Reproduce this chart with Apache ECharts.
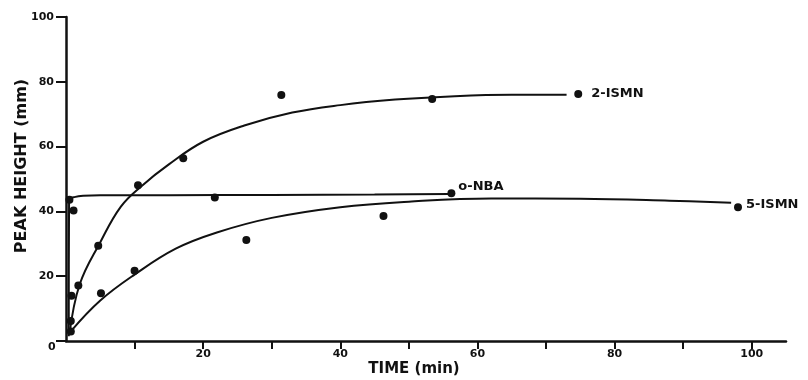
<!DOCTYPE html>
<html>
<head>
<meta charset="utf-8">
<script src="https://cdn.jsdelivr.net/npm/echarts@6/dist/echarts.min.js"></script>
<style>
html,body{margin:0;padding:0;background:#fff;}
#chart{width:808px;height:380px;}
</style>
</head>
<body>
<div id="chart"></div>
<script>
// ---- data ----
var xTicks = [10, 20, 30, 40, 50, 60, 70, 80, 90, 100];
var xTickLabels = [20, 40, 60, 80, 100];
var yTicks = [0, 20, 40, 60, 80, 100];
var yTickLabels = [20, 40, 60, 80, 100];

var seriesNames = ['2-ISMN', 'o-NBA', '5-ISMN'];

// measured points [time (min), peak height (mm)]
var ismn2Points = [[0.7, 6.2], [1.8, 17.1], [4.7, 29.4], [10.5, 48.1], [17.1, 56.4], [31.4, 75.9], [53.4, 74.7], [74.7, 76.2]];
var nbaPoints = [[0.5, 43.6], [0.8, 14.0], [1.1, 40.3], [21.7, 44.3], [56.2, 45.6]];
var ismn5Points = [[0.7, 2.9], [5.1, 14.7], [10.0, 21.7], [26.3, 31.2], [46.3, 38.6], [98.0, 41.3]];

// fitted curves
var ismn2Curve = [[0.5, 2], [2, 17.5], [5, 30.5], [8, 41.5], [11, 47.8], [15, 54.5], [20, 61.5], [26, 66.5], [33, 70.5], [40, 72.8], [48, 74.5], [56, 75.5], [65, 76], [73, 76]];
var nbaCurve = [[0.4, 1.5], [0.45, 43.8], [1.2, 44.4], [2.5, 44.8], [5, 45], [15, 45], [30, 45.1], [45, 45.2], [56, 45.4]];
var ismn5Curve = [[0.7, 3], [5, 12.5], [10, 20.5], [16, 28.5], [22, 33.5], [30, 38], [40, 41.3], [50, 43], [62, 44], [75, 43.9], [88, 43.3], [97, 42.7]];

var xTitle = 'TIME (min)';
var yTitle = 'PEAK HEIGHT (mm)';

// ---- chart ----
var FONT = 'DejaVu Sans';
var INK = '#111';

function labeledPoints(points, name, opts) {
  return points.map(function (p, i) {
    if (i === points.length - 1) {
      return {
        value: p,
        label: Object.assign({
          show: true, formatter: name, position: 'right',
          fontFamily: FONT, fontWeight: 'bold', fontSize: 13, color: INK
        }, opts)
      };
    }
    return { value: p };
  });
}

function curve(name, data, smooth) {
  return {
    name: name, type: 'line', data: data, smooth: smooth,
    showSymbol: false, symbol: 'none', silent: true,
    lineStyle: { color: INK, width: 2 }, z: 2
  };
}
function scatter(name, data) {
  return {
    name: name, type: 'scatter', data: data, symbol: 'circle', symbolSize: 8,
    itemStyle: { color: INK, opacity: 1 }, z: 3
  };
}

var chart = echarts.init(document.getElementById('chart'), null, { renderer: 'canvas' });
chart.setOption({
  animation: false,
  backgroundColor: '#fff',
  grid: { left: 66, right: 22, top: 17, bottom: 39, containLabel: false, outerBoundsMode: 'none' },
  xAxis: {
    type: 'value', min: 0, max: 105, interval: 10,
    name: xTitle, nameLocation: 'middle', nameGap: 21, nameMoveOverlap: false,
    nameTextStyle: { fontFamily: FONT, fontWeight: 'bold', fontSize: 15, color: INK, padding: [0, 24, 0, 0] },
    axisLine: { show: true, lineStyle: { color: INK, width: 2.5 } },
    axisTick: { show: true, length: 8, lineStyle: { color: INK, width: 2 }, customValues: xTicks },
    axisLabel: { show: true, margin: 8, fontFamily: FONT, fontWeight: 'bold', fontSize: 11, color: INK, customValues: xTickLabels },
    splitLine: { show: false }
  },
  yAxis: {
    type: 'value', min: 0, max: 100, interval: 20,
    name: yTitle, nameLocation: 'middle', nameGap: 36, nameMoveOverlap: false,
    nameTextStyle: { fontFamily: FONT, fontWeight: 'bold', fontSize: 16, color: INK, padding: [0, 0, 0, 26] },
    axisLine: { show: true, lineStyle: { color: INK, width: 2.5 } },
    axisTick: { show: true, length: 10, lineStyle: { color: INK, width: 2 }, customValues: yTicks },
    axisLabel: { show: true, margin: 12, fontFamily: FONT, fontWeight: 'bold', fontSize: 11, color: INK, customValues: yTickLabels },
    splitLine: { show: false }
  },
  graphic: [{
    type: 'text', left: 48, top: 342,
    style: { text: '0', font: 'bold 11px "DejaVu Sans"', fill: INK }
  }],
  series: [
    curve(seriesNames[0], ismn2Curve, 0.4),
    curve(seriesNames[1], nbaCurve, 0.2),
    curve(seriesNames[2], ismn5Curve, 0.4),
    scatter(seriesNames[0], labeledPoints(ismn2Points, seriesNames[0], { distance: 9 })),
    scatter(seriesNames[1], labeledPoints(nbaPoints, seriesNames[1], { distance: 3, offset: [0, -7] })),
    scatter(seriesNames[2], labeledPoints(ismn5Points, seriesNames[2], { distance: 4, offset: [0, -3] }))
  ]
});
</script>
</body>
</html>
